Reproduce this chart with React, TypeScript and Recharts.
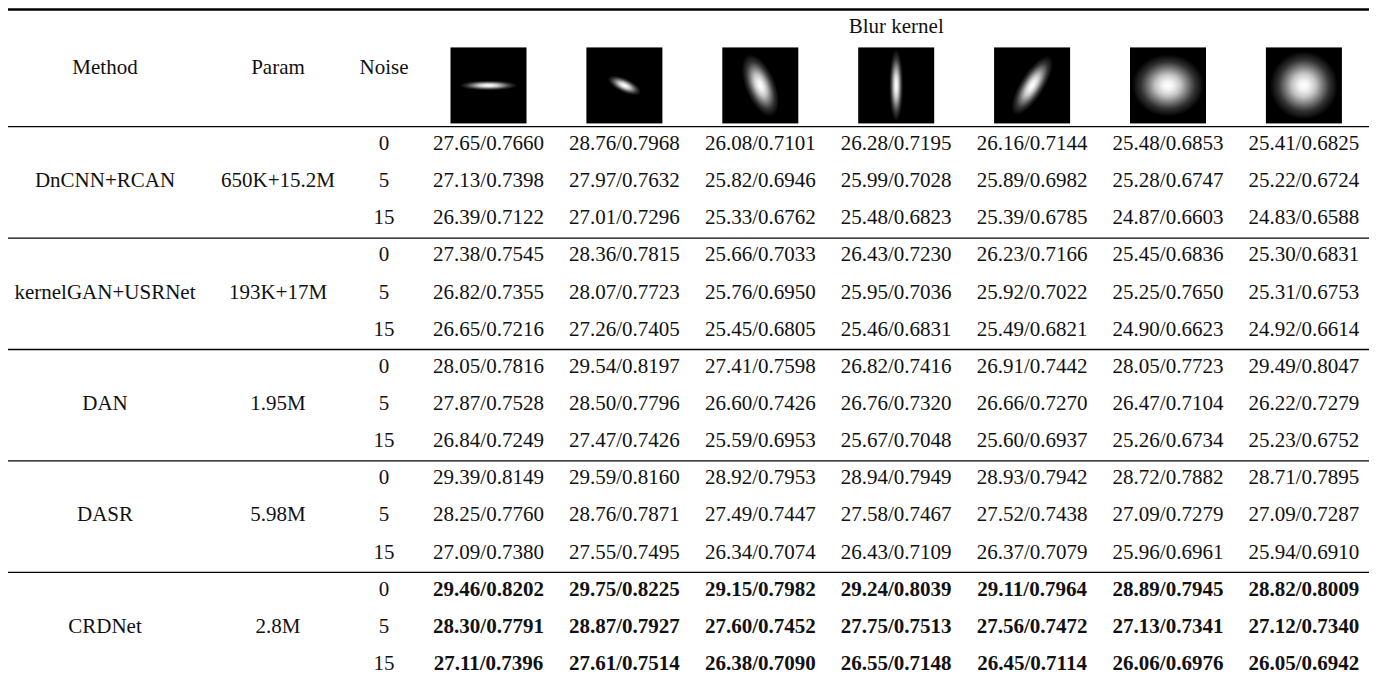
import { ScatterChart, Scatter, XAxis, YAxis, ReferenceLine } from "recharts";

const methods = ["DnCNN+RCAN", "kernelGAN+USRNet", "DAN", "DASR", "CRDNet"];
const params = ["650K+15.2M", "193K+17M", "1.95M", "5.98M", "2.8M"];
const noiseLevels = [0, 5, 15];
const headers = ["Method", "Param", "Noise"];
const kernelTitle = "Blur kernel";

// anisotropic gaussian kernels: half-size along x / y (px) and rotation (deg)
const kernelShapes = [
  { sx: 29, sy: 5, angle: 0 },
  { sx: 18, sy: 7, angle: 25 },
  { sx: 15, sy: 33, angle: -22 },
  { sx: 7, sy: 36, angle: 0 },
  { sx: 12, sy: 34, angle: 32 },
  { sx: 36, sy: 31, angle: 0 },
  { sx: 34, sy: 34, angle: 0 },
];

// PSNR / SSIM per method, rows = noise 0, 5, 15, columns = the 7 kernels
const psnrDnCNN = [
  [27.65, 28.76, 26.08, 26.28, 26.16, 25.48, 25.41],
  [27.13, 27.97, 25.82, 25.99, 25.89, 25.28, 25.22],
  [26.39, 27.01, 25.33, 25.48, 25.39, 24.87, 24.83],
];
const ssimDnCNN = [
  [0.766, 0.7968, 0.7101, 0.7195, 0.7144, 0.6853, 0.6825],
  [0.7398, 0.7632, 0.6946, 0.7028, 0.6982, 0.6747, 0.6724],
  [0.7122, 0.7296, 0.6762, 0.6823, 0.6785, 0.6603, 0.6588],
];
const psnrKernelGAN = [
  [27.38, 28.36, 25.66, 26.43, 26.23, 25.45, 25.3],
  [26.82, 28.07, 25.76, 25.95, 25.92, 25.25, 25.31],
  [26.65, 27.26, 25.45, 25.46, 25.49, 24.9, 24.92],
];
const ssimKernelGAN = [
  [0.7545, 0.7815, 0.7033, 0.723, 0.7166, 0.6836, 0.6831],
  [0.7355, 0.7723, 0.695, 0.7036, 0.7022, 0.765, 0.6753],
  [0.7216, 0.7405, 0.6805, 0.6831, 0.6821, 0.6623, 0.6614],
];
const psnrDAN = [
  [28.05, 29.54, 27.41, 26.82, 26.91, 28.05, 29.49],
  [27.87, 28.5, 26.6, 26.76, 26.66, 26.47, 26.22],
  [26.84, 27.47, 25.59, 25.67, 25.6, 25.26, 25.23],
];
const ssimDAN = [
  [0.7816, 0.8197, 0.7598, 0.7416, 0.7442, 0.7723, 0.8047],
  [0.7528, 0.7796, 0.7426, 0.732, 0.727, 0.7104, 0.7279],
  [0.7249, 0.7426, 0.6953, 0.7048, 0.6937, 0.6734, 0.6752],
];
const psnrDASR = [
  [29.39, 29.59, 28.92, 28.94, 28.93, 28.72, 28.71],
  [28.25, 28.76, 27.49, 27.58, 27.52, 27.09, 27.09],
  [27.09, 27.55, 26.34, 26.43, 26.37, 25.96, 25.94],
];
const ssimDASR = [
  [0.8149, 0.816, 0.7953, 0.7949, 0.7942, 0.7882, 0.7895],
  [0.776, 0.7871, 0.7447, 0.7467, 0.7438, 0.7279, 0.7287],
  [0.738, 0.7495, 0.7074, 0.7109, 0.7079, 0.6961, 0.691],
];
const psnrCRDNet = [
  [29.46, 29.75, 29.15, 29.24, 29.11, 28.89, 28.82],
  [28.3, 28.87, 27.6, 27.75, 27.56, 27.13, 27.12],
  [27.11, 27.61, 26.38, 26.55, 26.45, 26.06, 26.05],
];
const ssimCRDNet = [
  [0.8202, 0.8225, 0.7982, 0.8039, 0.7964, 0.7945, 0.8009],
  [0.7791, 0.7927, 0.7452, 0.7513, 0.7472, 0.7341, 0.734],
  [0.7396, 0.7514, 0.709, 0.7148, 0.7114, 0.6976, 0.6942],
];

const psnrAll = [psnrDnCNN, psnrKernelGAN, psnrDAN, psnrDASR, psnrCRDNet];
const ssimAll = [ssimDnCNN, ssimKernelGAN, ssimDAN, ssimDASR, ssimCRDNet];
const boldMethod = "CRDNet";

// layout: x unit = one kernel column, y unit = one body row
const CHART_W = 1369;
const CHART_H = 671;
const COL_PITCH = 135.9;
const FIRST_COL_PX = 480.5;
const ROW_PITCH = 37.14;
const FIRST_ROW_PX = 135;
const X_DOMAIN = [-FIRST_COL_PX / COL_PITCH, (CHART_W - FIRST_COL_PX) / COL_PITCH];
const Y_DOMAIN = [-FIRST_ROW_PX / ROW_PITCH, (CHART_H - FIRST_ROW_PX) / ROW_PITCH];
const METHOD_COL = -2.822;
const PARAM_COL = -1.549;
const NOISE_COL = -0.769;
const TITLE_ROW = -3.15;
const HEADER_ROW = -2.05;
const KERNEL_ROW = -1.55;
const TOP_RULE = -3.595;
const LINE_OFFSET = -0.44;
const KERNEL_SIZE = 76;
const FONT = "'Liberation Serif', 'Times New Roman', serif";

type Cell = { x: number; y: number; text: string; bold?: boolean };

const textCells: Cell[] = [];
headers.forEach((h, i) =>
  textCells.push({ x: [METHOD_COL, PARAM_COL, NOISE_COL][i], y: HEADER_ROW, text: h })
);
textCells.push({ x: 3, y: TITLE_ROW, text: kernelTitle });
methods.forEach((m, g) => {
  textCells.push({ x: METHOD_COL, y: g * 3 + 1, text: m });
  textCells.push({ x: PARAM_COL, y: g * 3 + 1, text: params[g] });
  noiseLevels.forEach((n, r) => {
    textCells.push({ x: NOISE_COL, y: g * 3 + r, text: String(n) });
    psnrAll[g][r].forEach((p, k) => {
      textCells.push({
        x: k,
        y: g * 3 + r,
        text: `${p.toFixed(2)}/${ssimAll[g][r][k].toFixed(4)}`,
        bold: m === boldMethod,
      });
    });
  });
});

const kernelCells = kernelShapes.map((s, k) => ({ x: k, y: KERNEL_ROW, ...s }));
const groupLines = methods.map((_, g) => g * 3 + LINE_OFFSET);

const TextCell = (props: any) => {
  const { cx, cy, payload } = props;
  return (
    <text
      x={cx}
      y={cy}
      textAnchor="middle"
      dominantBaseline="central"
      fontFamily={FONT}
      fontSize={21}
      fontWeight={payload.bold ? "bold" : "normal"}
      fill="#111"
    >
      {payload.text}
    </text>
  );
};

const KernelShape = (props: any) => {
  const { cx, cy, payload } = props;
  const h = KERNEL_SIZE / 2;
  return (
    <g>
      <clipPath id={`kclip-${payload.x}`}>
        <rect x={cx - h} y={cy - h} width={KERNEL_SIZE} height={KERNEL_SIZE} />
      </clipPath>
      <rect x={cx - h} y={cy - h} width={KERNEL_SIZE} height={KERNEL_SIZE} fill="#000" />
      <ellipse
        cx={cx}
        cy={cy}
        rx={payload.sx}
        ry={payload.sy}
        fill="url(#kernelGlow)"
        clipPath={`url(#kclip-${payload.x})`}
        transform={`rotate(${payload.angle} ${cx} ${cy})`}
      />
    </g>
  );
};

export default function App() {
  return (
    <ScatterChart width={CHART_W} height={CHART_H} margin={{ top: 0, right: 0, bottom: 0, left: 0 }}>
      <defs>
        <radialGradient id="kernelGlow">
          <stop offset="0%" stopColor="#ffffff" />
          <stop offset="15%" stopColor="#f2f2f2" />
          <stop offset="35%" stopColor="#c4c4c4" />
          <stop offset="55%" stopColor="#7a7a7a" />
          <stop offset="75%" stopColor="#333333" />
          <stop offset="100%" stopColor="#000000" />
        </radialGradient>
      </defs>
      <XAxis type="number" dataKey="x" domain={X_DOMAIN} hide allowDataOverflow />
      <YAxis type="number" dataKey="y" domain={Y_DOMAIN} hide reversed allowDataOverflow />
      <ReferenceLine y={TOP_RULE} stroke="#000" strokeWidth={2.5} />
      {groupLines.map((v) => (
        <ReferenceLine key={v} y={v} stroke="#000" strokeWidth={1.3} />
      ))}
      <Scatter data={kernelCells} shape={KernelShape} isAnimationActive={false} />
      <Scatter data={textCells} shape={TextCell} isAnimationActive={false} />
    </ScatterChart>
  );
}
